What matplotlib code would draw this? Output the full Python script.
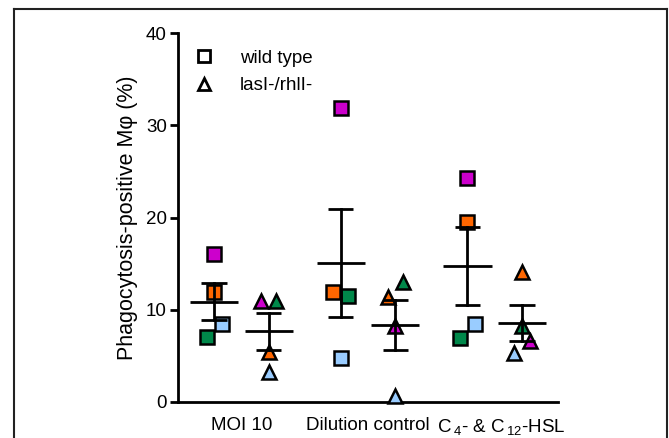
import numpy as np
import matplotlib
matplotlib.use('Agg')
import matplotlib.pyplot as plt
import matplotlib.transforms as mtransforms
from matplotlib.lines import Line2D

plt.rcParams['font.family'] = ['Liberation Sans', 'DejaVu Sans']
plt.rcParams['mathtext.fontset'] = 'custom'
plt.rcParams['mathtext.rm'] = 'Liberation Sans'
plt.rcParams['mathtext.it'] = 'Liberation Sans'

# data
groups = ['MOI 10', 'Dilution control', r'C$\,_{4}$- & C$\,_{12}$-HSL']
point_colors = ['#cc00cc', '#ff6600', '#00884a', '#99ccff']  # purple, orange, green, blue

wt_values = [
    [16.0, 11.9, 7.05, 8.45],
    [31.9, 11.9, 11.5, 4.8],
    [24.3, 19.5, 6.9, 8.45],
]
wt_jitter = [
    [0.0, 0.0, -0.06, 0.06],
    [0.0, -0.06, 0.06, 0.0],
    [0.0, 0.0, -0.06, 0.06],
]
mut_values = [
    [11.0, 5.4, 11.0, 3.2],
    [8.2, 11.4, 13.0, 0.7],
    [6.65, 14.1, 8.2, 5.3],
]
mut_jitter = [
    [-0.06, 0.0, 0.06, 0.0],
    [0.0, -0.06, 0.06, 0.0],
    [0.06, 0.0, 0.0, -0.06],
]

W, H = 669, 438
fig = plt.figure(figsize=(W / 100, H / 100), dpi=100)
ax = fig.add_axes([178 / W, 1 - 402 / H, (558 - 178) / W, (402 - 33) / H])

offset = 0.215
mean_half = 0.19
cap_half = 0.1
lw_err = 2.0


def draw_group(x0, vals, jit, marker):
    vals = np.array(vals)
    m = vals.mean()
    sem = vals.std(ddof=1) / np.sqrt(len(vals))
    # points
    for v, j, c in zip(vals, jit, point_colors):
        ax.plot(x0 + j, v, marker=marker, ms=9.5, mfc=c, mec='black', mew=1.8,
                ls='none', zorder=3, clip_on=False)
    # mean and sem
    ax.plot([x0 - mean_half, x0 + mean_half], [m, m], color='black', lw=lw_err, zorder=4, solid_capstyle='butt')
    ax.plot([x0, x0], [m - sem, m + sem], color='black', lw=lw_err, zorder=4)
    for y in (m - sem, m + sem):
        ax.plot([x0 - cap_half, x0 + cap_half], [y, y], color='black', lw=lw_err, zorder=4, solid_capstyle='butt')


for i in range(len(groups)):
    xc = i + 1
    draw_group(xc - offset, wt_values[i], wt_jitter[i], 's')
    draw_group(xc + offset, mut_values[i], mut_jitter[i], '^')

ax.set_xlim(0.5, 3.5)
ax.set_ylim(0, 40)
ax.set_yticks([0, 10, 20, 30, 40])
ax.set_xticks([1, 2, 3])
ax.set_xticklabels(groups, fontsize=13.5)
ax.tick_params(axis='x', length=0, pad=11)
ax.tick_params(axis='y', length=6, width=2, labelsize=13.5, pad=2)
ax.spines['top'].set_visible(False)
ax.spines['right'].set_visible(False)
ax.spines['left'].set_linewidth(2)
ax.spines['bottom'].set_linewidth(2)
ax.set_ylabel('Phagocytosis-positive M\u03c6 (%)', fontsize=15.5, labelpad=6)

# nudge the last group label to the right, as in the original
shift = mtransforms.ScaledTranslation(7 / 100, 0, fig.dpi_scale_trans)
lab = ax.get_xticklabels()[2]
lab.set_transform(lab.get_transform() + shift)

# legend
handles = [
    Line2D([], [], marker='s', ms=8, mfc='white', mec='black', mew=2, ls='none'),
    Line2D([], [], marker='^', ms=8, mfc='white', mec='black', mew=2, ls='none'),
]
ax.legend(handles, ['wild type', 'lasI-/rhlI-'], loc='upper left', frameon=False,
          fontsize=13.5, handletextpad=0.9, labelspacing=0.55,
          bbox_to_anchor=(-0.025, 1.0))

# figure frame
frame_kw = dict(color='#222222', lw=1.5, transform=fig.transFigure)
fig.add_artist(Line2D([14 / W, 14 / W], [0, 1 - 9 / H], **frame_kw))
fig.add_artist(Line2D([14 / W, 667 / W], [1 - 9 / H, 1 - 9 / H], **frame_kw))
fig.add_artist(Line2D([667 / W, 667 / W], [0, 1 - 9 / H], **frame_kw))

fig.savefig('out.png', dpi=100)
